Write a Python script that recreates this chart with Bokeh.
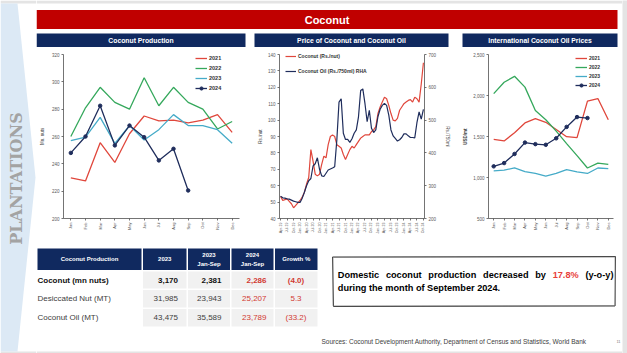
import math
from bokeh.plotting import figure
from bokeh.layouts import row, column
from bokeh.models import Range1d, LinearAxis, FixedTicker, NumeralTickFormatter, Legend, LegendItem
from bokeh.core.properties import value
from bokeh.embed import file_html
from bokeh.resources import INLINE

# ---------------- data ----------------
months = ["Jan", "Feb", "Mar", "Apr", "May", "Jun", "Jul", "Aug", "Sep", "Oct", "Nov", "Dec"]
years = ["2021", "2022", "2023", "2024"]

prod_2021 = [229.7, 227.5, 255.5, 241, 262, 275, 271.5, 272, 270, 272, 276, 263]
prod_2022 = [260, 281, 296, 285, 280, 303, 282.5, 296, 285, 280, 265.5, 271]
prod_2023 = [257, 259.5, 274, 255, 268, 257.5, 265, 276, 268, 268, 265, 255]
prod_2024 = [248, 260, 282.5, 253.5, 268, 259.5, 242.5, 251, 220.5]

price_tick_labels = ["Apr-19", "Jul-19", "Oct-19", "Jan-20", "Apr-20", "Jul-20", "Oct-20",
                     "Jan-21", "Apr-21", "Jul-21", "Oct-21", "Jan-22", "Apr-22", "Jul-22",
                     "Oct-22", "Jan-23", "Apr-23", "Jul-23", "Oct-23", "Jan-24", "Apr-24",
                     "Jul-24", "Oct-24"]
coconut_price = [53.5, 51, 51.5, 52, 50.5, 49, 46.5, 48, 49.5, 51, 53, 56, 61, 65, 82, 75,
                 67, 66, 67, 73, 78, 77, 85, 90, 91, 90, 85, 84, 83, 79, 76, 79, 82, 84, 83,
                 85, 87, 89, 90, 91, 91, 91, 93, 94, 96, 104, 108, 111, 114, 113, 109, 104,
                 100, 99.5, 101, 106, 108, 110, 111, 112, 112.5, 111, 114, 113, 111, 122, 135]
coconut_oil_price = [268, 263, 262, 260, 259, 256, 253, 251, 249, 249, 262, 280, 300, 315,
                     322, 360, 367, 385, 350, 330, 328, 338, 348, 351, 354, 358, 440, 555,
                     565, 460, 441, 441, 432, 443, 460, 470, 510, 590, 595, 550, 495, 530,
                     475, 462, 470, 511, 533, 545, 551, 545, 515, 470, 452, 444, 436, 440,
                     447, 458, 458, 452, 447, 447, 446, 492, 525, 503, 533]

intl_2021 = [1466, 1446, 1546, 1665, 1717, 1673, 1586, 1498, 1486, 1931, 1963, 1705]
intl_2022 = [2023, 2162, 2234, 2102, 1816, 1705, 1566, 1414, 1267, 1116, 1176, 1160]
intl_2023 = [1081, 1089, 1116, 1073, 1049, 1017, 1049, 1097, 1069, 1049, 1116, 1108]
intl_2024 = [1136, 1176, 1287, 1426, 1407, 1399, 1478, 1617, 1737, 1725]

table_items = ["Coconut (mn nuts)", "Desiccated Nut (MT)", "Coconut Oil (MT)"]
val_2023 = ["3,170", "31,985", "43,475"]
val_2023_jansep = ["2,381", "23,943", "35,589"]
val_2024_jansep = ["2,286", "25,207", "23,789"]
growth_pct = ["(4.0)", "5.3", "(33.2)"]

note_line1 = ["Domestic", "coconut", "production", "decreased", "by", "17.8%", "(y-o-y)"]
note_line2 = "during the month of September 2024."

# ---------------- styles ----------------
FONT = "Liberation Sans"
RED = "#c00000"
NAVY = "#10295f"
C21, C22, C23, C24 = "#e0473c", "#35a85c", "#45abc8", "#1f2d5c"
AX = "#505050"
GRAY_BORDER = "#e4e4e4"
TXT = "#404040"

# Arial/Liberation Sans Bold advance widths (per 1000 em) for text justification
BOLD_W = {" ": 278, "a": 556, "b": 611, "c": 556, "d": 611, "e": 556, "g": 611, "h": 611,
          "i": 278, "m": 889, "n": 611, "o": 611, "p": 611, "r": 389, "s": 556, "t": 333,
          "u": 611, "y": 556, "D": 722, "(": 333, ")": 333, "-": 333, ".": 278, "%": 889}


def bold_width(s, size):
    return sum(BOLD_W.get(ch, 556) for ch in s) * size / 1000.0


def deco_fig(w, h, xr, yr):
    p = figure(width=w, height=h, x_range=Range1d(*xr), y_range=Range1d(*yr),
               output_backend="svg", toolbar_location=None, x_axis_type=None,
               y_axis_type=None, min_border=0)
    p.outline_line_color = None
    p.background_fill_color = "white"
    p.border_fill_color = "white"
    p.grid.visible = False
    return p


def txt(p, x, y, s, size, color="black", bold=False, align="left", font=FONT, angle=0):
    p.text(x=[x], y=[y], text=[s], text_font=value(font), text_font_size=value(size),
           text_color=color, text_font_style="bold" if bold else "normal",
           text_align=align, text_baseline="middle", angle=angle)


def style_axes(p):
    p.grid.visible = False
    p.outline_line_color = None
    p.background_fill_color = "white"
    p.border_fill_color = "white"
    for ax in p.axis:
        ax.axis_line_color = AX
        ax.axis_line_width = 0.8
        ax.major_tick_line_color = AX
        ax.major_tick_line_width = 0.8
        ax.minor_tick_line_color = None
        ax.major_tick_out = 2
        ax.major_tick_in = 0
        ax.major_label_text_font = FONT
        ax.major_label_text_font_size = "4.5px"
        ax.major_label_text_color = "#595959"
        ax.major_label_standoff = 2
        ax.axis_label_text_font = FONT
        ax.axis_label_text_font_size = "4.5px"
        ax.axis_label_text_font_style = "normal"
        ax.axis_label_text_color = "#404040"


def make_legend(items, loc, gw, gh, spacing, size):
    lg = Legend(items=items, location=loc)
    lg.background_fill_alpha = 0
    lg.border_line_color = None
    lg.label_text_font = FONT
    lg.label_text_font_size = size
    lg.label_text_font_style = "bold"
    lg.label_text_color = "#333333"
    lg.glyph_width = gw
    lg.glyph_height = gh
    lg.label_height = gh
    lg.label_standoff = 2
    lg.spacing = spacing
    lg.padding = 0
    lg.margin = 0
    return lg


# ---------------- left strip ----------------
left = deco_fig(36, 353, (0, 36), (353, 0))
left.quad(left=[0], right=[36], top=[0], bottom=[3], color=GRAY_BORDER, line_color=None)
left.quad(left=[0], right=[36], top=[351], bottom=[353], color=GRAY_BORDER, line_color=None)
left.patch(x=[0, 17, 35, 17, 0], y=[3, 3, 177, 351, 351], color="#dce9f5", line_color=None)
txt(left, 15.5, 178, "PLANTATIONS", "16px", color="#a3a3a3", bold=True, align="center",
    font="DejaVu Serif", angle=math.pi / 2)

# ---------------- right strip ----------------
right = deco_fig(5, 353, (0, 5), (353, 0))
right.background_fill_color = GRAY_BORDER
right.border_fill_color = GRAY_BORDER

# ---------------- top banner ----------------
top = deco_fig(586, 47, (36, 622), (47, 0))
top.quad(left=[36], right=[622], top=[0], bottom=[3], color=GRAY_BORDER, line_color=None)
top.quad(left=[36], right=[617], top=[9.5], bottom=[28.5], color=RED, line_color=None)
txt(top, 326.5, 19.2, "Coconut", "11px", color="white", bold=True, align="center")
headers = [("Coconut Production", 36, 245), ("Price of Coconut and Coconut Oil", 254, 448),
           ("International Coconut Oil Prices", 462, 617)]
for label, l, r in headers:
    top.quad(left=[l], right=[r], top=[33], bottom=[47], color=NAVY, line_color=None)
    txt(top, (l + r) / 2, 40.3, label, "6.8px", color="white", bold=True, align="center")

# ---------------- chart 1: coconut production ----------------
mx = list(range(1, 13))
p1 = figure(width=214, height=198, x_range=Range1d(0.5, 12.5), y_range=Range1d(200, 320),
            output_backend="svg", toolbar_location=None, min_border_left=27,
            min_border_right=11, min_border_top=7, min_border_bottom=24)
r21 = p1.line(mx, prod_2021, line_color=C21, line_width=1.3)
r22 = p1.line(mx, prod_2022, line_color=C22, line_width=1.3)
r23 = p1.line(mx, prod_2023, line_color=C23, line_width=1.3)
r24 = p1.line(mx[:len(prod_2024)], prod_2024, line_color=C24, line_width=1.3)
s24 = p1.scatter(mx[:len(prod_2024)], prod_2024, size=3.5, color=C24)
p1.xaxis.ticker = FixedTicker(ticks=mx)
p1.xaxis.major_label_overrides = {i + 1: m for i, m in enumerate(months)}
p1.yaxis.ticker = FixedTicker(ticks=list(range(200, 321, 20)))
p1.yaxis.axis_label = "Mn. nuts"
style_axes(p1)
p1.xaxis.major_label_orientation = math.pi / 2
p1.xaxis.major_label_text_font_size = "4px"
p1.yaxis.axis_label_standoff = 4
p1.add_layout(make_legend([LegendItem(label=years[0], renderers=[r21]),
                           LegendItem(label=years[1], renderers=[r22]),
                           LegendItem(label=years[2], renderers=[r23]),
                           LegendItem(label=years[3], renderers=[r24, s24])],
                          (132, 126), 12, 8, 2, "5.5px"))

# ---------------- chart 2: price ----------------
px = list(range(len(coconut_price)))
p2 = figure(width=205, height=198, x_range=Range1d(-0.5, 66.5), y_range=Range1d(40, 140),
            output_backend="svg", toolbar_location=None, min_border_left=29,
            min_border_right=31, min_border_top=4, min_border_bottom=27)
p2.extra_y_ranges = {"oil": Range1d(200, 700)}
ax_r = LinearAxis(y_range_name="oil", axis_label="Rs./750ml",
                  ticker=FixedTicker(ticks=list(range(200, 701, 100))))
p2.add_layout(ax_r, "right")
ra = p2.line(px, coconut_price, line_color=C21, line_width=1.2)
rb = p2.line(px, coconut_oil_price, line_color=C24, line_width=1.2, y_range_name="oil")
qt = list(range(0, 67, 3))
p2.xaxis.ticker = FixedTicker(ticks=qt)
p2.xaxis.major_label_overrides = {t: lab for t, lab in zip(qt, price_tick_labels)}
p2.yaxis[0].ticker = FixedTicker(ticks=list(range(40, 141, 10)))
p2.yaxis[0].axis_label = "Rs./nut"
style_axes(p2)
p2.xaxis.major_label_orientation = math.pi / 2
p2.xaxis.major_label_text_font_size = "3.6px"
p2.yaxis[0].axis_label_standoff = 2
ax_r.axis_label_standoff = 6
p2.add_layout(make_legend([LegendItem(label="Coconut (Rs./nut)", renderers=[ra]),
                           LegendItem(label="Coconut Oil (Rs./750ml) RHA", renderers=[rb])],
                          (6, 143), 11, 8, 7, "5px"))

# ---------------- chart 3: international prices ----------------
p3 = figure(width=167, height=198, x_range=Range1d(0.5, 12.5), y_range=Range1d(500, 2500),
            output_backend="svg", toolbar_location=None, min_border_left=33,
            min_border_right=9, min_border_top=5, min_border_bottom=26)
i21 = p3.line(mx, intl_2021, line_color=C21, line_width=1.3)
i22 = p3.line(mx, intl_2022, line_color=C22, line_width=1.3)
i23 = p3.line(mx, intl_2023, line_color=C23, line_width=1.3)
i24 = p3.line(mx[:len(intl_2024)], intl_2024, line_color=C24, line_width=1.3)
j24 = p3.scatter(mx[:len(intl_2024)], intl_2024, size=3.5, color=C24)
p3.xaxis.ticker = FixedTicker(ticks=mx)
p3.xaxis.major_label_overrides = {i + 1: m for i, m in enumerate(months)}
p3.yaxis.ticker = FixedTicker(ticks=list(range(500, 2501, 500)))
p3.yaxis.formatter = NumeralTickFormatter(format="0,0")
p3.yaxis.axis_label = "USD/mt"
style_axes(p3)
p3.xaxis.major_label_orientation = math.pi / 2
p3.xaxis.major_label_text_font_size = "4px"
p3.yaxis.axis_label_text_font_style = "bold"
p3.yaxis.axis_label_standoff = 2
p3.add_layout(make_legend([LegendItem(label=years[0], renderers=[i21]),
                           LegendItem(label=years[1], renderers=[i22]),
                           LegendItem(label=years[2], renderers=[i23]),
                           LegendItem(label=years[3], renderers=[i24, j24])],
                          (87, 129), 12, 8, 1, "5px"))

# ---------------- bottom: table, note, sources ----------------
bot = deco_fig(586, 108, (36, 622), (353, 245))
bot.quad(left=[36], right=[622], top=[351], bottom=[353], color=GRAY_BORDER, line_color=None)
cols = [(37, 141), (142.5, 186), (187.5, 229.5), (231, 273), (274.5, 317)]
for l, r in cols:
    bot.quad(left=[l], right=[r], top=[248], bottom=[269.5], color=NAVY, line_color=None)
hdr_mid = 258.8
txt(bot, (cols[0][0] + cols[0][1]) / 2, hdr_mid, "Coconut Production", "6px", "white", True, "center")
txt(bot, (cols[1][0] + cols[1][1]) / 2, hdr_mid, "2023", "6px", "white", True, "center")
for k, (yr, lab) in enumerate([("2023", "Jan-Sep"), ("2024", "Jan-Sep")]):
    cx = (cols[2 + k][0] + cols[2 + k][1]) / 2
    txt(bot, cx, 254.5, yr, "6px", "white", True, "center")
    txt(bot, cx, 263.5, lab, "6px", "white", True, "center")
txt(bot, (cols[4][0] + cols[4][1]) / 2, hdr_mid, "Growth %", "6px", "white", True, "center")

row_bounds = [(271, 288), (289.5, 307), (308.5, 326)]
for (t, b) in row_bounds:
    for l, r in cols[1:]:
        bot.quad(left=[l], right=[r], top=[t], bottom=[b], color="#f1f1f1", line_color=None)

VRED = "#d23a32"
for i, item in enumerate(table_items):
    yc = (row_bounds[i][0] + row_bounds[i][1]) / 2
    b = (i == 0)
    dark = "#111111" if b else TXT
    txt(bot, 37, yc, item, "8px", dark, b, "left")
    txt(bot, 177.5, yc, val_2023[i], "8px", dark, b, "right")
    txt(bot, 221, yc, val_2023_jansep[i], "8px", dark, b, "right")
    txt(bot, 266, yc, val_2024_jansep[i], "8px", VRED, b, "right")
    txt(bot, 295.5, yc, growth_pct[i], "8px", VRED, b, "center")

# note box (sketchy border)
bot.line(x=[332, 615, 614.5, 333, 332], y=[256.5, 256, 305.5, 306, 256.5], line_color="#3a3a3a", line_width=1)
bot.line(x=[332.5, 614.5, 615, 332.5, 332.5], y=[257, 256.6, 305, 305.4, 257], line_color="#777777", line_width=0.6)

# justified first line
NOTE_SIZE = 9.2
x_start, x_end = 337.3, 613.0
widths = [bold_width(w, NOTE_SIZE) for w in note_line1]
gap = (x_end - x_start - sum(widths)) / (len(note_line1) - 1)
xc = x_start
for w, wd in zip(note_line1, widths):
    txt(bot, xc, 274.3, w, "%.1fpx" % NOTE_SIZE, "#e8403a" if "%" in w else "black", True, "left")
    xc += wd + gap
txt(bot, x_start, 287.3, note_line2, "%.1fpx" % NOTE_SIZE, "black", True, "left")

txt(bot, 321, 340.5, "Sources: Coconut Development Authority, Department of Census and Statistics, World Bank",
    "6.5px", TXT, False, "left")
txt(bot, 618, 341, "11", "4px", "#808080", False, "center")

layout = row(left, column(top, row(p1, p2, p3), bot), right)
open("out.html", "w").write(file_html(layout, INLINE))
